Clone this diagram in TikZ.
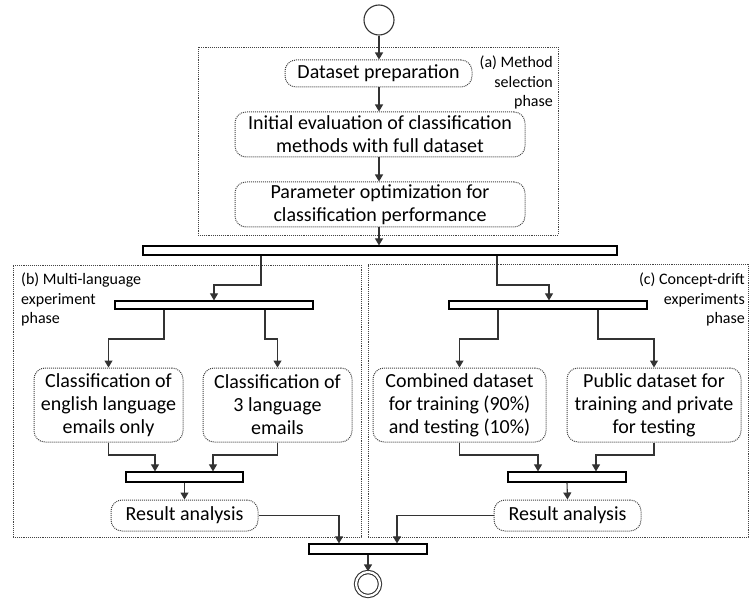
\documentclass[tikz,border=0pt]{standalone}
\usepackage{fontspec}
\setmainfont{Carlito}
\usetikzlibrary{arrows.meta,calc}
\definecolor{linec}{HTML}{333333}
\definecolor{dotc}{HTML}{444444}
\tikzset{
  act/.style={draw=dotc, densely dotted, line width=1pt, rounded corners=11pt, align=center,
     inner sep=0pt, font=\fontsize{20}{23}\selectfont, text=black},
  phase/.style={draw=dotc, densely dotted, line width=0.9pt},
  bar/.style={draw=black, line width=1.2pt, fill=white, inner sep=0pt},
  arr/.style={draw=linec, line width=1.1pt, -{Triangle[length=7pt,width=8pt]}},
  plab/.style={font=\fontsize{16}{19.5}\selectfont, inner sep=0pt, text=black},
}
\begin{document}
\begin{tikzpicture}[x=1pt,y=-1pt]
\useasboundingbox (0,0) rectangle (750,604);
% phase boxes
\node[phase, minimum width=360, minimum height=188, inner sep=0pt] (boxA) at (378,141) {};
\node[phase, minimum width=348, minimum height=272, inner sep=0pt] (boxB) at (187,401) {};
\node[phase, minimum width=380, minimum height=273, inner sep=0pt] (boxC) at (558,400.5) {};
\node[plab, anchor=north east, align=right] (labA) at (553,56) {(a) Method\\selection\\phase};
\node[plab, anchor=north west, align=left] (labB) at (21,273) {(b) Multi-language\\experiment\\phase};
\node[plab, anchor=north east, align=right] (labC) at (745,273) {(c) Concept-drift\\experiments\\phase};
% start/end
\node[draw=linec, circle, line width=1.1pt, minimum size=30, inner sep=0pt] (start) at (379,20) {};
\node[draw=linec, circle, line width=1.1pt, double, double distance=2.2pt, minimum size=24, inner sep=0pt] (end) at (368,584) {};
% activities
\node[act, minimum width=187, minimum height=27] (ds) at (378.5,73.5) {Dataset preparation};
\node[act, minimum width=290, minimum height=45] (ie) at (380,134.5) {Initial evaluation of classification\\methods with full dataset};
\node[act, minimum width=290, minimum height=45] (po) at (380,204.5) {Parameter optimization for\\classification performance};
\node[act, minimum width=149, minimum height=74] (c1) at (108.5,405) {Classification of\\english language\\emails only};
\node[act, minimum width=149, minimum height=74] (c2) at (277.5,405) {Classification of\\3 language\\emails};
\node[act, minimum width=173, minimum height=74] (c3) at (459.5,405) {Combined dataset\\for training (90\%)\\and testing (10\%)};
\node[act, minimum width=174, minimum height=74] (c4) at (654,405) {Public dataset for\\training and private\\for testing};
\node[act, minimum width=147, minimum height=31] (rB) at (184.5,515.5) {Result analysis};
\node[act, minimum width=147, minimum height=31] (rC) at (567.5,515.5) {Result analysis};
% bars
\node[bar, minimum width=474, minimum height=9] (bar1) at (380,250.5) {};
\node[bar, minimum width=198, minimum height=8] (barB) at (214,305) {};
\node[bar, minimum width=198, minimum height=8] (barC) at (548,305) {};
\node[bar, minimum width=117, minimum height=10] (jB) at (184.5,477) {};
\node[bar, minimum width=118, minimum height=10] (jC) at (567,477) {};
\node[bar, minimum width=118, minimum height=10] (fin) at (368,549) {};
% helper coordinates
\coordinate (xa) at (261,0);
\coordinate (xb) at (497,0);
\coordinate (x1) at (164,0);
\coordinate (x2) at (265,0);
\coordinate (x3) at (498,0);
\coordinate (x4) at (598,0);
\coordinate (y285) at (0,285);
\coordinate (y339) at (0,339);
\coordinate (y455) at (0,455);
\coordinate (k1) at (155,0);
\coordinate (k2) at (213,0);
\coordinate (k3) at (538,0);
\coordinate (k4) at (596,0);
\coordinate (fl) at (339,0);
\coordinate (fr) at (397,0);
% connectors
\draw[arr] (start) -- (start |- ds.north);
\draw[arr] (ds.south -| start) -- (start |- ie.north);
\draw[arr] (ie.south -| start) -- (start |- po.north);
\draw[arr] (po.south -| start) -- (start |- bar1.north);
\draw[arr] (bar1.south -| xa) -- (xa |- y285) -| (barB.north);
\draw[arr] (bar1.south -| xb) -- (xb |- y285) -| ($(barC.north)+(1,0)$);
\draw[arr] (barB.south -| x1) -- (x1 |- y339) -| (c1.north);
\draw[arr] (barB.south -| x2) -- (x2 |- y339) -| (c2.north);
\draw[arr] (barC.south -| x3) -- (x3 |- y339) -| (c3.north);
\draw[arr] (barC.south -| x4) -- (x4 |- y339) -| (c4.north);
\draw[arr] (c1.south) -- (c1.south |- y455) -| (jB.north -| k1);
\draw[arr] (c2.south) -- (c2.south |- y455) -| (jB.north -| k2);
\draw[arr] (c3.south) -- (c3.south |- y455) -| (jC.north -| k3);
\draw[arr] (c4.south) -- (c4.south |- y455) -| (jC.north -| k4);
\draw[arr] (jB.south) -- (rB.north);
\draw[arr] (jC.south) -- (rC.north);
\draw[arr] (rB.east) -| (fin.north -| fl);
\draw[arr] (rC.west) -| (fin.north -| fr);
\draw[arr] (fin.south) -- (end.north);
\end{tikzpicture}
\end{document}
